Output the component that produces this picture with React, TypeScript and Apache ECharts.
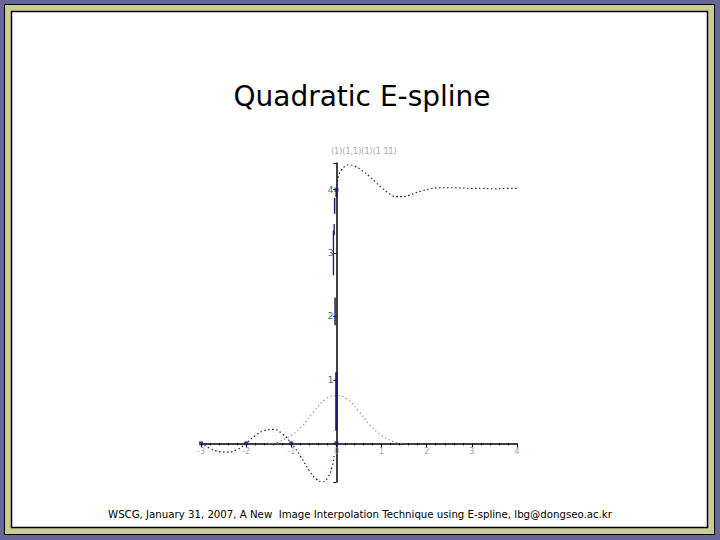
import React, { useEffect, useRef } from "react";
import * as echarts from "echarts";

// Navy curve (E-spline response)
const curveX = [-3, -2.8, -2.6, -2.43, -2.2, -2, -1.8, -1.6, -1.41, -1.2, -1, -0.8, -0.6, -0.45, -0.31, -0.2, -0.1, -0.05];
const curveY = [0, -0.08, -0.13, -0.14, -0.1, 0, 0.12, 0.2, 0.22, 0.15, 0, -0.2, -0.43, -0.56, -0.61, -0.55, -0.38, -0.2];

// Steep part along the y-axis, drawn as broken segments: x, y start, y end
const steepX = [0, -0.03, -0.066, -0.05, -0.04, 0];
const steepY0 = [0.2, 1.86, 2.65, 3.28, 3.62, 3.88];
const steepY1 = [1.12, 2.3, 3.35, 3.46, 3.87, 4.0];
const steepW = [2.5, 1.5, 1.3, 1.3, 1.5, 2];

// Upper branch
const upperX = [0, 0.05, 0.12, 0.2, 0.29, 0.4, 0.55, 0.73, 0.88, 1.02, 1.17, 1.32, 1.45, 1.61, 1.75, 1.9, 2.05, 2.27, 2.45, 2.65, 3.0, 3.22, 3.5, 3.75, 4.0];
const upperY = [4.0, 4.22, 4.32, 4.37, 4.39, 4.37, 4.31, 4.21, 4.11, 4.02, 3.94, 3.89, 3.89, 3.91, 3.95, 3.98, 4.01, 4.03, 4.03, 4.03, 4.02, 4.02, 4.01, 4.02, 4.02];

// Gray quadratic B-spline bump
const bumpX = [-1.5, -1.32, -1.25, -1.0, -0.75, -0.5, -0.25, 0, 0.25, 0.5, 0.75, 1.0, 1.25, 1.32, 1.5];
const bumpY = [0, 0.01, 0.03, 0.125, 0.28, 0.5, 0.69, 0.75, 0.69, 0.5, 0.28, 0.125, 0.03, 0.01, 0];

// Marked sample points
const markX = [-3, -2, -1, 0, 0];
const markY = [0, 0, 0, 0, 4];

// Tick labels
const xTickValues = [-3, -2, -1, 0, 1, 2, 3, 4];
const xTickLabels = ["-3", "-2", "-1", "0", "1", "2", "3", "4"];
const yTickValues = [1, 2, 3, 4];
const yTickLabels = ["1", "2", "3", "4"];

const titleText = "Quadratic E-spline";
const footerText = "WSCG, January 31, 2007, A New  Image Interpolation Technique using E-spline, lbg@dongseo.ac.kr";
const topLabel = "(1)(1,1)(1)(1 11)";

const zip = (xs: number[], ys: number[]) => xs.map((x, i) => [x, ys[i]]);

const NAVY = "#1b1b6e";

export default function App() {
  const ref = useRef<HTMLDivElement>(null);
  useEffect(() => {
    if (!ref.current) return;
    const chart = echarts.init(ref.current, null, { renderer: "svg" });
    const steepSeries = steepX.map((x, i) => ({
      type: "line",
      data: [
        [x, steepY0[i]],
        [x, steepY1[i]],
      ],
      showSymbol: false,
      lineStyle: { color: NAVY, width: steepW[i], type: "solid" },
      z: 3,
    }));
    chart.setOption({
      animation: false,
      backgroundColor: "#666699",
      graphic: [
        {
          type: "rect",
          z: -10,
          shape: { x: 4.5, y: 4.5, width: 710, height: 530 },
          style: { fill: "#cccc99", stroke: "#000", lineWidth: 1 },
        },
        {
          type: "rect",
          z: -9,
          shape: { x: 11.5, y: 11.5, width: 696, height: 516 },
          style: { fill: "#ffffff", stroke: "#000", lineWidth: 1.5 },
        },
        {
          type: "text",
          x: 362,
          y: 96,
          style: {
            text: titleText,
            fill: "#000",
            font: "28px 'DejaVu Sans'",
            align: "center",
            verticalAlign: "middle",
          },
        },
        {
          type: "text",
          x: 360,
          y: 514,
          style: {
            text: footerText,
            fill: "#000",
            font: "10.2px 'DejaVu Sans'",
            align: "center",
            verticalAlign: "middle",
          },
        },
        {
          type: "text",
          x: 331,
          y: 151,
          style: {
            text: topLabel,
            fill: "#aaa",
            font: "8px 'DejaVu Sans'",
            align: "left",
            verticalAlign: "middle",
          },
        },
      ],
      grid: { left: 201, right: 203, top: 163, bottom: 58, outerBoundsMode: "none" },
      xAxis: {
        type: "value",
        min: -3,
        max: 4,
        interval: 1,
        axisLine: { onZero: true, lineStyle: { color: "#000", width: 1.5 } },
        axisTick: { show: true, length: 4, lineStyle: { color: "#000" } },
        minorTick: { show: true, splitNumber: 5, length: 2, lineStyle: { color: "#000" } },
        splitLine: { show: false },
        axisLabel: { show: false },
      },
      yAxis: {
        type: "value",
        min: -0.61,
        max: 4.42,
        axisLine: { onZero: true, lineStyle: { color: "#000", width: 1.5 } },
        axisTick: { show: true, length: 3, lineStyle: { color: "#000" } },
        splitLine: { show: false },
        axisLabel: { show: false },
      },
      series: [
        {
          type: "line",
          data: zip(bumpX, bumpY),
          smooth: true,
          showSymbol: false,
          lineStyle: { color: "#9a9a9a", width: 1.2, type: [1.5, 2.5] },
        },
        {
          type: "line",
          data: zip(curveX, curveY),
          smooth: true,
          showSymbol: false,
          lineStyle: { color: NAVY, width: 1.2, type: [1.5, 2.5] },
        },
        ...steepSeries,
        {
          type: "line",
          data: zip(upperX, upperY),
          smooth: true,
          showSymbol: false,
          lineStyle: { color: NAVY, width: 1.2, type: [1.5, 2.5] },
        },
        {
          type: "scatter",
          data: zip(markX, markY),
          symbol: "rect",
          symbolSize: 4,
          itemStyle: { color: NAVY },
          z: 4,
        },
        {
          type: "scatter",
          data: xTickValues.map((v, i) => ({ value: [v, 0], name: xTickLabels[i] })),
          symbolSize: 0,
          silent: true,
          label: {
            show: true,
            position: "bottom",
            distance: 4,
            formatter: (p: any) => p.name,
            color: "#888",
            fontSize: 8,
            fontFamily: "DejaVu Sans",
          },
        },
        {
          type: "scatter",
          data: yTickValues.map((v, i) => ({ value: [0, v], name: yTickLabels[i] })),
          symbolSize: 0,
          silent: true,
          label: {
            show: true,
            position: "left",
            distance: 3,
            formatter: (p: any) => p.name,
            color: "#333",
            fontSize: 9,
            fontFamily: "DejaVu Sans",
          },
        },
      ],
    });
    return () => chart.dispose();
  }, []);
  return (
    <div
      ref={ref}
      style={{ position: "fixed", left: 0, top: 0, width: 720, height: 540 }}
    />
  );
}
